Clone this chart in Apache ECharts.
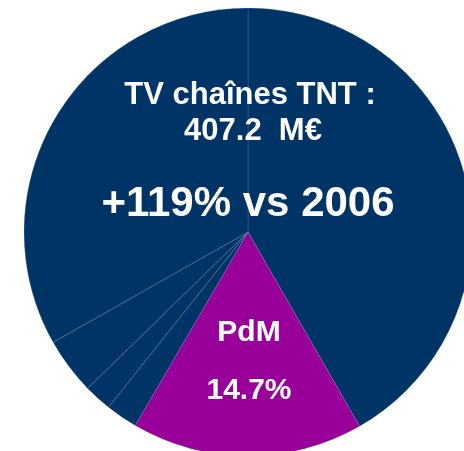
<!DOCTYPE html>
<html>
<head>
    <meta charset="utf-8">
    <title>TV chaînes TNT</title>
    <script src="https://cdn.jsdelivr.net/npm/echarts@6/dist/echarts.min.js"></script>
    <style>
        html, body { margin: 0; padding: 0; background: #fff; }
        #main { width: 464px; height: 451px; }
    </style>
</head>
<body>
<div id="main"></div>
<script type="text/javascript">
    // parts du pie (sens horaire depuis le haut)
    var segments = ['TV chaînes TNT', 'PdM', 'Autre 1', 'Autre 2', 'Autre 3', 'TV chaînes TNT (suite)'];
    var shares = [41.7, 16.7, 2.3, 2.0, 4.1, 33.2];
    var colors = ['#003366', '#990099', '#003366', '#003366', '#003366', '#003366'];

    // textes
    var tntLines = ['TV chaînes TNT :', '407.2  M€'];
    var growthText = '+119% vs 2006';
    var pdmLines = ['PdM', '14.7%'];

    var FONT = '"Liberation Sans", Arial, sans-serif';

    var dom = document.getElementById('main');
    var myChart = echarts.init(dom, null, { renderer: 'canvas' });

    var pieData = [];
    for (var i = 0; i < segments.length; i++) {
        pieData.push({ name: segments[i], value: shares[i], itemStyle: { color: colors[i] } });
    }

    function txt(s, x, y, size) {
        return {
            type: 'text',
            silent: true,
            z: 10,
            style: {
                text: s,
                x: x,
                y: y,
                align: 'center',
                verticalAlign: 'middle',
                fill: '#ffffff',
                font: 'bold ' + size + 'px ' + FONT
            }
        };
    }

    var option = {
        animation: false,
        series: [
            {
                type: 'pie',
                center: [248, 232],
                radius: 224,
                startAngle: 90,
                clockwise: true,
                label: { show: false },
                labelLine: { show: false },
                emphasis: { disabled: true },
                itemStyle: {
                    borderColor: 'rgba(130,160,200,0.45)',
                    borderWidth: 0.5
                },
                data: pieData
            }
        ],
        graphic: [
            txt(tntLines[0], 250, 95, 31),
            txt(tntLines[1], 253, 131, 31),
            txt(growthText, 248, 204, 42),
            txt(pdmLines[0], 249, 333, 30),
            txt(pdmLines[1], 249, 391, 30)
        ]
    };

    myChart.setOption(option);
    window.addEventListener('resize', myChart.resize);
</script>
</body>
</html>
